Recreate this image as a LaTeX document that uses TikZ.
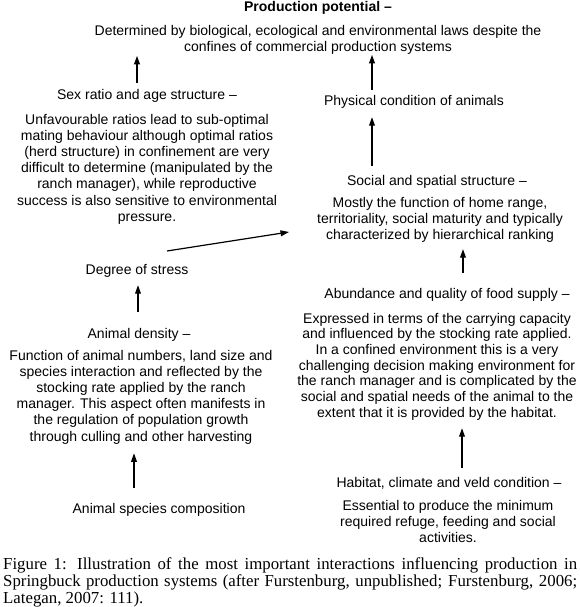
\documentclass[tikz,border=0pt]{standalone}
\usepackage{fontspec}
\setmainfont{Liberation Sans}
\newfontfamily\capfont{Liberation Serif}
\usetikzlibrary{arrows.meta}
\begin{document}
\begin{tikzpicture}[x=1pt,y=-1pt,
  txt/.style={inner sep=0pt, font=\fontsize{14}{16.1}\selectfont, align=center},
  arr/.style={line width=1.2pt, -{Triangle[length=8.5pt,width=5.8pt]}}]
\useasboundingbox (0,0) rectangle (580,607);
\fill[white] (0,0) rectangle (580,607);

% top block
\node[txt,anchor=base] (title) at (318,12) {\bfseries Production potential –};
\node[txt,font=\fontsize{14}{15.5}\selectfont] (det) at (318,40) {Determined by biological, ecological and environmental laws despite the\\confines of commercial production systems};

% left column
\node[txt,anchor=base] (sexT) at (147,100) {Sex ratio and age structure –};
\node[txt,font=\fontsize{14}{16.2}\selectfont] (sexB) at (147,169) {Unfavourable ratios lead to sub-optimal\\mating behaviour although optimal ratios\\(herd structure) in confinement are very\\difficult to determine (manipulated by the\\ranch manager), while reproductive\\success is also sensitive to environmental\\pressure.};
\node[txt,anchor=base] (deg) at (137,274) {Degree of stress};
\node[txt,anchor=base] (dens) at (139,338) {Animal density –};
\node[txt,font=\fontsize{14}{16.2}\selectfont] (funB) at (141,397) {Function of animal numbers, land size and\\species interaction and reflected by the\\stocking rate applied by the ranch\\manager. This aspect often manifests in\\the regulation of population growth\\through culling and other harvesting};
\node[txt,anchor=base] (spec) at (159,513) {Animal species composition};

% right column
\node[txt,anchor=base] (phys) at (414,106) {Physical condition of animals};
\node[txt,anchor=base] (socT) at (437,185) {Social and spatial structure –};
\node[txt,font=\fontsize{14}{15.7}\selectfont] (socB) at (440,220) {Mostly the function of home range,\\territoriality, social maturity and typically\\characterized by hierarchical ranking};
\node[txt,anchor=base] (abT) at (447,298) {Abundance and quality of food supply –};
\node[txt,font=\fontsize{14}{15.7}\selectfont] (expB) at (437,366.5) {Expressed in terms of the carrying capacity\\and influenced by the stocking rate applied.\\In a confined environment this is a very\\challenging decision making environment for\\the ranch manager and is complicated by the\\social and spatial needs of the animal to the\\extent that it is provided by the habitat.};
\node[txt,anchor=base] (habT) at (449,487) {Habitat, climate and veld condition –};
\node[txt,font=\fontsize{14}{16}\selectfont] (essB) at (448,521) {Essential to produce the minimum\\required refuge, feeding and social\\activities.};

% caption
\node[inner sep=0pt, text width=574pt, align=justify, anchor=north west,
      font=\capfont\fontsize{16.8}{17}\selectfont] (cap) at (3,557.5)
  {\hyphenpenalty=10000 Figure 1: Illustration of the most important interactions influencing production in\linebreak Springbuck production systems (after Furstenburg, unpublished; Furstenburg, 2006;\linebreak Lategan, 2007: 111).};

% connectors
\draw[arr, shorten <=6.8pt, shorten >=1.4pt] (sexT.north -| 137,0) -- (det.south -| 137,0);
\draw[arr, shorten <=5.8pt, shorten >=0.4pt] (phys.north -| 372,0) -- (det.south -| 372,0);
\draw[arr, shorten <=8.8pt, shorten >=8.1pt] (socT.north -| 372,0) -- (phys.south -| 372,0);
\draw[arr, shorten <=15.8pt, shorten >=8.1pt] (dens.north -| 138,0) -- (deg.south -| 138,0);
\draw[arr, shorten <=14.8pt, shorten >=6.75pt] (abT.north -| 463,0) -- (socB.south -| 463,0);
\draw[arr, shorten <=14.8pt, shorten >=9.1pt] (spec.north -| 134,0) -- (funB.south -| 134,0);
\draw[arr, shorten <=8.8pt, shorten >=7.9pt] (habT.north -| 462,0) -- (expB.south -| 462,0);
\coordinate (stressOut) at (167,251);
\coordinate (socIn) at (289,232);
\draw[arr] (stressOut) -- (socIn);
\end{tikzpicture}
\end{document}
